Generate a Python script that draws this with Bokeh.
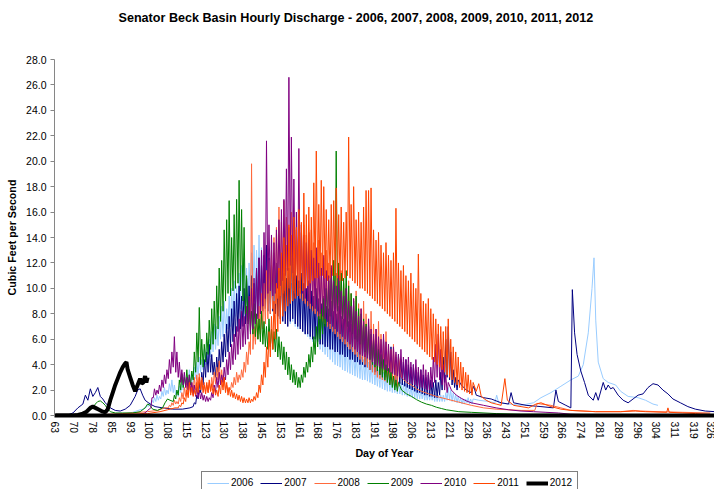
from bokeh.plotting import figure
from bokeh.layouts import column
from bokeh.models import Range1d, FixedTicker, NumeralTickFormatter, Legend, LegendItem, Title
from bokeh.embed import file_html
from bokeh.resources import INLINE

# ---------------- data ----------------
years = ["2006", "2007", "2008", "2009", "2010", "2011", "2012"]
colors = ["#99CCFF", "#000080", "#FF6A3D", "#008000", "#800080", "#FF4500", "#000000"]

x_tick_labels = ["63", "70", "78", "85", "93", "100", "108", "115", "123", "130", "138", "145",
                 "153", "161", "168", "176", "183", "191", "198", "206", "213", "221", "228", "236",
                 "243", "251", "259", "266", "274", "281", "289", "296", "304", "311", "319", "326"]
y_ticks = [0, 2, 4, 6, 8, 10, 12, 14, 16, 18, 20, 22, 24, 26, 28]

# 2006
pre_d_2006 = [63, 75, 85, 90, 94, 97]
pre_v_2006 = [0.0, 0.02, 0.05, 0.1, 0.25, 0.45]
start_2006 = 98
hi_2006 = [0.6, 0.8, 1.0, 1.2, 1.4, 1.6, 1.5, 1.9, 2.2, 2.0,
           2.5, 2.8, 2.4, 2.0, 2.3, 2.8, 3.2, 3.0, 3.6, 3.3,
           3.8, 4.2, 4.6, 4.4, 5.2, 5.8, 6.0, 6.6, 7.2, 7.0,
           7.8, 8.6, 9.0, 8.4, 9.4, 10.0, 10.6, 10.2, 11.2, 11.8,
           12.4, 11.6, 12.0, 12.8, 13.4, 13.0, 14.2, 13.2, 12.6, 13.4,
           12.8, 12.0, 12.6, 11.8, 12.2, 11.4, 11.0, 11.6, 10.8, 10.4,
           11.0, 10.2, 9.8, 10.4, 9.6, 9.2, 9.8, 9.0, 8.6, 8.2,
           8.8, 8.0, 7.6, 7.2, 7.6, 7.0, 6.6, 6.8, 6.2, 5.8,
           6.0, 5.6, 5.2, 5.4, 5.0, 4.8, 5.0, 4.6, 4.4, 4.6,
           4.2, 4.0, 4.2, 3.8, 3.6, 3.8, 3.4, 3.2, 3.4, 3.0,
           2.9, 3.0, 2.7, 2.6, 2.5, 2.5, 2.4, 2.3, 2.2, 2.2,
           2.0, 2.0, 1.9, 1.9, 1.8, 1.8, 1.7, 1.7, 1.6, 1.6,
           1.6, 1.8, 2.2, 2.0, 1.8, 1.6, 1.5, 1.4, 1.3, 1.3,
           1.4, 1.3, 1.3]
lo_2006 = [0.5, 0.6, 0.7, 0.9, 1.0, 1.1, 1.2, 1.3, 1.5, 1.6,
           1.7, 1.9, 1.8, 1.6, 1.5, 1.8, 2.0, 2.2, 2.4, 2.5,
           2.6, 2.9, 3.2, 3.4, 3.6, 4.0, 4.3, 4.6, 5.0, 5.2,
           5.5, 6.0, 6.2, 6.5, 6.8, 7.0, 7.4, 7.8, 8.0, 8.4,
           8.8, 8.6, 8.4, 9.0, 9.4, 9.2, 9.8, 9.5, 9.0, 9.6,
           9.2, 8.8, 9.0, 8.6, 8.4, 8.2, 7.8, 8.0, 7.6, 7.2,
           7.4, 7.0, 6.8, 7.0, 6.6, 6.4, 6.2, 6.0, 5.8, 5.6,
           5.4, 5.2, 5.0, 4.8, 4.6, 4.4, 4.2, 4.0, 3.9, 3.8,
           3.6, 3.5, 3.4, 3.3, 3.2, 3.1, 3.0, 2.9, 2.8, 2.8,
           2.7, 2.6, 2.5, 2.4, 2.3, 2.2, 2.1, 2.0, 1.9, 1.9,
           1.8, 1.8, 1.7, 1.7, 1.6, 1.6, 1.5, 1.5, 1.4, 1.4,
           1.3, 1.3, 1.3, 1.2, 1.2, 1.2, 1.2, 1.1, 1.1, 1.1,
           1.1, 1.1, 1.2, 1.2, 1.1, 1.1, 1.0, 1.0, 0.9, 0.9,
           1.0, 0.9, 0.9]
post_d_2006 = [233, 237, 239.5, 240.2, 241, 245, 250, 255, 258, 262, 266, 270, 273, 275, 277,
               278.5, 279.3, 280, 281, 283, 285, 288, 290, 293, 297, 300, 303, 305]
post_v_2006 = [1.2, 1.1, 1.0, 1.6, 1.0, 0.9, 0.8, 1.0, 1.4, 1.8, 2.3, 2.8, 3.1, 4.0, 6.5,
               10.0, 12.4, 7.5, 4.2, 2.9, 2.6, 2.4, 1.9, 1.5, 1.4, 1.2, 0.9, 0.8]

# 2007
pre_d_2007 = [63, 68, 70, 72, 74, 75, 76, 77, 78, 79, 80, 81, 82, 83, 85, 87, 89, 91, 93, 95,
              96, 97, 98, 99, 101, 103, 106, 110, 114, 117]
pre_v_2007 = [0.0, 0.05, 0.2, 0.6, 0.9, 1.6, 1.2, 2.1, 1.5, 1.8, 2.2, 1.5, 1.3, 1.0, 0.6, 0.4,
              0.35, 0.5, 0.8, 1.5, 2.0, 2.1, 1.6, 1.2, 0.9, 0.7, 0.6, 0.5, 0.5, 0.6]
start_2007 = 118
hi_2007 = [1.0, 1.6, 2.6, 3.4, 4.4, 5.0, 5.6, 4.8, 4.2, 4.6,
           5.2, 5.8, 6.4, 7.2, 7.8, 8.4, 9.0, 9.6, 10.2, 9.4,
           10.0, 10.8, 10.2, 11.0, 10.4, 11.6, 12.4, 11.8, 12.6, 13.4,
           12.4, 11.8, 12.8, 12.0, 11.4, 12.2, 11.2, 10.8, 11.6, 14.0,
           12.4, 11.0, 10.6, 11.2, 10.4, 10.0, 10.6, 9.8, 9.4, 10.0,
           9.2, 8.8, 9.4, 8.6, 8.4, 9.0, 8.2, 8.0, 8.6, 7.8,
           7.6, 8.2, 7.4, 7.2, 7.8, 7.0, 6.8, 7.4, 6.6, 6.4,
           7.0, 6.2, 6.0, 6.4, 5.8, 5.6, 6.0, 5.4, 5.2, 5.4,
           4.8, 4.6, 4.8, 4.4, 4.2, 4.4, 4.0, 3.8, 4.0, 3.6,
           3.4, 3.6, 3.2, 3.0, 3.2, 2.8, 2.6, 2.8, 2.6, 3.4,
           4.6, 6.0, 7.0, 5.0, 3.6, 3.0, 2.8]
lo_2007 = [0.7, 0.9, 1.3, 1.8, 2.4, 3.0, 3.4, 3.4, 3.2, 3.0,
           3.4, 3.8, 4.2, 4.6, 5.0, 5.4, 5.8, 6.2, 6.6, 6.8,
           7.0, 7.2, 7.4, 7.6, 7.4, 7.6, 7.8, 8.0, 8.2, 8.4,
           8.2, 8.0, 8.2, 8.0, 7.8, 7.6, 7.4, 7.2, 7.0, 7.4,
           7.6, 7.2, 7.0, 6.8, 6.6, 6.4, 6.4, 6.2, 6.0, 6.0,
           5.8, 5.6, 5.6, 5.4, 5.4, 5.2, 5.2, 5.0, 5.0, 4.8,
           4.8, 4.6, 4.6, 4.4, 4.4, 4.2, 4.2, 4.0, 4.0, 3.8,
           3.8, 3.6, 3.6, 3.4, 3.4, 3.2, 3.2, 3.0, 3.0, 2.8,
           2.8, 2.6, 2.6, 2.5, 2.4, 2.3, 2.2, 2.1, 2.0, 1.9,
           1.8, 1.8, 1.7, 1.6, 1.6, 1.5, 1.5, 1.4, 1.4, 1.6,
           2.0, 2.6, 3.0, 2.8, 2.4, 2.2, 2.0]
post_d_2007 = [226, 228, 230, 231, 232, 235, 238, 242, 245, 246, 247, 252, 258, 263, 264, 265, 268,
               270, 270.6, 271.5, 272.5, 274, 275.5, 277, 279, 280, 281, 283, 284, 285, 286, 287,
               289, 291, 293, 295, 297, 299, 301, 303, 305, 307, 309, 311, 314, 317, 320, 324, 328]
post_v_2007 = [2.4, 2.0, 1.8, 2.3, 1.6, 1.4, 1.3, 1.0, 0.9, 1.8, 1.0, 0.8, 0.7, 0.6, 2.0, 1.1, 0.8,
               0.6, 9.9, 6.5, 4.8, 3.5, 2.6, 1.6, 1.2, 1.8, 1.2, 2.6, 2.0, 2.4, 2.1, 2.2,
               1.6, 1.2, 1.0, 1.3, 1.6, 1.7, 2.2, 2.5, 2.4, 2.0, 1.7, 1.3, 1.0, 0.7, 0.5, 0.35, 0.3]

# 2008
pre_d_2008 = [63, 80, 90, 100, 104, 107]
pre_v_2008 = [0.0, 0.05, 0.15, 0.3, 0.4, 0.6]
start_2008 = 108
hi_2008 = [0.8, 1.0, 1.2, 1.1, 1.4, 1.8, 2.2, 2.6, 2.8, 2.6,
           3.0, 3.2, 3.3, 3.0, 2.6, 2.4, 2.6, 3.0, 3.4, 3.8,
           4.3, 3.6, 3.0, 2.4, 2.2, 2.6, 3.0, 3.4, 3.2, 3.6,
           4.2, 5.0, 5.8, 19.8, 7.0, 7.8, 8.6, 9.6, 10.4, 11.4,
           12.2, 13.0, 14.0, 14.8, 16.4, 15.2, 16.9, 15.6, 14.8, 16.0,
           15.2, 14.6, 15.8, 14.4, 15.0, 14.2, 13.8, 14.6, 13.6, 13.0,
           13.8, 12.8, 12.4, 13.0, 12.0, 11.6, 12.2, 11.2, 10.8, 11.4,
           10.4, 10.0, 10.6, 9.6, 9.2, 9.8, 8.8, 8.4, 9.0, 8.0,
           7.6, 8.2, 7.2, 6.8, 7.4, 6.4, 6.0, 6.6, 5.6, 5.2,
           5.6, 4.8, 4.6]
lo_2008 = [0.6, 0.7, 0.8, 0.9, 0.9, 1.1, 1.3, 1.5, 1.7, 1.8,
           1.9, 2.0, 2.2, 2.1, 2.0, 1.9, 1.8, 1.9, 2.2, 2.5,
           2.8, 2.6, 2.3, 2.0, 1.9, 2.0, 2.2, 2.4, 2.6, 2.8,
           3.0, 3.4, 4.0, 4.8, 5.2, 5.6, 6.0, 6.4, 6.8, 7.2,
           7.6, 8.0, 8.4, 8.8, 9.2, 9.4, 9.6, 9.8, 10.0, 10.0,
           9.8, 9.6, 9.4, 9.2, 9.0, 8.8, 8.6, 8.4, 8.2, 8.0,
           7.8, 7.6, 7.4, 7.2, 7.0, 6.8, 6.6, 6.4, 6.2, 6.0,
           5.8, 5.6, 5.4, 5.2, 5.0, 4.8, 4.6, 4.4, 4.2, 4.0,
           3.8, 3.6, 3.4, 3.2, 3.0, 2.9, 2.8, 2.7, 2.6, 2.5,
           2.4, 2.3, 2.2]
post_d_2008 = [202, 204, 206, 208, 210, 213, 216, 220, 224, 230, 235, 240, 250, 255.5, 256.5,
               258, 262, 266, 270, 280, 290, 295, 298, 305, 315, 326]
post_v_2008 = [3.0, 2.6, 2.4, 2.1, 1.9, 1.7, 1.5, 1.3, 1.1, 0.8, 0.6, 0.5, 0.4, 0.4, 0.95,
               0.9, 0.8, 0.6, 0.4, 0.3, 0.3, 0.4, 0.35, 0.3, 0.25, 0.2]

# 2009
pre_d_2009 = [63, 70, 73, 76, 78, 79, 80, 81, 82, 83, 84, 85, 87, 90, 94, 97, 99, 100, 101, 102,
              104, 106, 107, 108, 109]
pre_v_2009 = [0.0, 0.02, 0.1, 0.3, 0.6, 0.9, 1.1, 1.15, 1.0, 0.8, 0.5, 0.3, 0.2, 0.2, 0.2, 0.3,
              0.6, 0.9, 0.8, 0.5, 0.4, 0.6, 1.0, 1.3, 1.2]
start_2009 = 110
hi_2009 = [1.6, 2.0, 2.8, 3.3, 3.0, 3.6, 3.2, 3.5, 5.0, 6.5,
           8.5, 6.0, 5.6, 6.5, 7.5, 8.4, 9.0, 10.2, 11.6, 12.2,
           14.6, 15.4, 16.9, 14.0, 15.8, 17.0, 18.5, 16.2, 14.8, 11.0,
           9.0, 8.2, 8.8, 8.0, 7.6, 8.2, 7.4, 7.0, 7.6, 6.8,
           6.6, 6.8, 6.2, 5.8, 5.4, 5.0, 4.6, 4.0, 3.6, 3.4,
           3.0, 3.2, 3.8, 4.2, 4.8, 5.4, 6.2, 7.0, 7.8, 8.4,
           9.2, 10.0, 10.6, 11.4, 12.2, 20.8, 12.0, 11.2, 10.8, 11.4,
           10.2, 9.6, 9.0, 9.4, 8.4, 8.0, 7.6, 7.2, 6.8, 6.4,
           6.0, 5.6, 5.2, 4.8, 4.4, 4.0, 3.7, 3.4, 3.1, 2.8,
           2.6]
lo_2009 = [1.1, 1.3, 1.6, 2.0, 2.2, 2.4, 2.3, 2.4, 2.8, 3.4,
           4.2, 4.0, 3.8, 4.2, 4.8, 5.2, 5.6, 6.0, 6.8, 7.4,
           8.2, 9.0, 9.6, 9.4, 9.8, 10.0, 10.4, 9.8, 9.0, 8.0,
           7.2, 6.6, 6.4, 6.2, 6.0, 5.8, 5.6, 5.4, 5.2, 5.4,
           5.2, 5.0, 4.6, 4.4, 4.0, 3.6, 3.2, 2.8, 2.6, 2.4,
           2.2, 2.2, 2.6, 3.0, 3.4, 3.8, 4.2, 4.8, 5.4, 6.0,
           6.4, 7.0, 7.4, 7.8, 8.2, 8.4, 8.2, 8.0, 7.6, 7.4,
           7.0, 6.6, 6.4, 6.0, 5.8, 5.6, 5.2, 5.0, 4.6, 4.4,
           4.0, 3.8, 3.5, 3.2, 3.0, 2.8, 2.6, 2.4, 2.2, 2.0,
           1.9]
post_d_2009 = [202, 204, 206, 208, 210, 212, 214, 216, 218, 220, 225, 230, 240, 250, 260, 280, 300, 326]
post_v_2009 = [2.0, 1.7, 1.5, 1.25, 1.05, 0.9, 0.8, 0.65, 0.55, 0.45, 0.3, 0.25, 0.15, 0.1, 0.1,
               0.08, 0.08, 0.05]

# 2010
pre_d_2010 = [63, 90, 96, 99, 100]
pre_v_2010 = [0.0, 0.0, 0.05, 0.2, 0.4]
start_2010 = 101
hi_2010 = [1.4, 2.1, 2.0, 2.4, 2.8, 3.2, 3.6, 4.4, 5.0, 6.2,
           5.0, 4.2, 3.6, 3.4, 3.0, 3.2, 2.6, 2.4, 2.2, 2.0,
           1.8, 1.6, 1.5, 1.4, 1.8, 2.4, 3.0, 3.4, 3.2, 3.8,
           4.4, 5.0, 5.6, 6.4, 7.0, 7.6, 8.2, 7.8, 8.6, 9.4,
           10.0, 10.8, 11.6, 12.4, 13.0, 14.4, 21.6, 15.0, 14.2, 13.6,
           14.6, 15.4, 16.2, 17.0, 19.4, 26.6, 21.9, 18.6, 16.0, 21.0,
           15.0, 14.2, 13.6, 14.4, 13.0, 12.4, 13.2, 12.0, 11.6, 12.6,
           11.4, 11.0, 11.8, 10.6, 10.2, 11.0, 9.8, 9.4, 10.0, 9.0,
           8.6, 9.2, 8.2, 7.8, 8.4, 7.4, 7.0, 7.6, 6.8, 6.4,
           6.8, 6.2, 6.0, 6.4, 5.8, 5.6, 5.2, 5.4, 5.0, 4.8,
           5.2, 4.6, 4.4, 4.6, 4.2, 4.0, 4.4, 3.8, 3.6, 4.0,
           3.6, 3.4, 3.8, 4.6, 5.6, 6.4, 5.2, 4.0, 3.2, 2.6]
lo_2010 = [0.6, 1.4, 1.6, 1.7, 1.9, 2.2, 2.5, 2.9, 3.3, 3.8,
           3.4, 3.0, 2.6, 2.4, 2.2, 2.0, 1.8, 1.6, 1.5, 1.4,
           1.3, 1.2, 1.1, 1.1, 1.2, 1.4, 1.8, 2.2, 2.4, 2.6,
           2.8, 3.2, 3.6, 4.0, 4.4, 4.8, 5.2, 5.4, 5.6, 6.0,
           6.4, 6.8, 7.2, 7.6, 8.0, 8.6, 9.2, 9.6, 9.8, 9.4,
           9.6, 10.0, 10.2, 10.6, 11.0, 11.4, 11.8, 11.2, 10.6, 10.4,
           10.0, 9.6, 9.2, 9.0, 8.8, 8.6, 8.4, 8.2, 8.0, 7.8,
           7.6, 7.4, 7.2, 7.0, 6.8, 6.6, 6.4, 6.2, 6.0, 5.8,
           5.6, 5.4, 5.2, 5.0, 4.8, 4.7, 4.6, 4.5, 4.4, 4.2,
           4.0, 3.9, 3.8, 3.7, 3.6, 3.5, 3.4, 3.3, 3.2, 3.1,
           3.0, 2.9, 2.8, 2.7, 2.6, 2.5, 2.4, 2.3, 2.2, 2.2,
           2.1, 2.0, 2.0, 2.2, 2.6, 3.0, 2.8, 2.4, 2.0, 1.8]
post_d_2010 = [222, 224, 226, 228, 230, 235, 240, 245, 250, 255, 260, 265, 270, 280, 300, 326]
post_v_2010 = [2.0, 1.6, 1.35, 1.15, 1.0, 0.8, 0.6, 0.45, 0.35, 0.3, 0.25, 0.2, 0.1, 0.05, 0.02, 0.0]

# 2011
pre_d_2011 = [63, 80, 100, 105, 108, 111]
pre_v_2011 = [0.0, 0.05, 0.15, 0.3, 0.45, 0.6]
start_2011 = 112
hi_2011 = [0.8, 1.0, 1.4, 2.0, 2.6, 2.2, 2.0, 2.6, 3.0, 2.8,
           2.4, 2.6, 2.8, 2.5, 2.2, 2.0, 2.4, 2.8, 3.0, 2.6,
           2.2, 2.0, 1.8, 1.7, 1.6, 1.5, 1.4, 1.3, 1.4, 1.3,
           1.5, 1.8, 2.4, 3.2, 4.2, 5.4, 6.6, 7.8, 9.0, 10.4,
           11.6, 12.8, 14.0, 13.4, 15.0, 14.2, 15.6, 14.8, 16.2, 15.2,
           17.5, 15.8, 16.4, 15.6, 18.3, 20.8, 16.6, 18.5, 18.0, 16.2,
           15.4, 16.6, 16.9, 17.9, 15.8, 16.4, 15.2, 16.0, 21.9, 16.6,
           18.0, 15.4, 16.0, 15.2, 16.4, 17.7, 17.7, 17.9, 14.6, 13.8,
           14.4, 13.4, 12.8, 13.6, 12.6, 12.2, 12.8, 16.3, 12.0, 11.4,
           11.8, 11.0, 10.6, 11.2, 10.4, 10.0, 12.7, 9.6, 9.0, 8.8,
           9.2, 8.4, 8.0, 7.6, 7.2, 7.0, 6.6, 7.0, 7.6, 6.0,
           5.4, 5.0, 4.6, 4.2, 3.8, 3.4, 3.2, 2.8, 2.6]
lo_2011 = [0.6, 0.7, 0.9, 1.1, 1.4, 1.6, 1.5, 1.6, 1.8, 2.0,
           1.8, 1.7, 1.8, 1.9, 1.7, 1.6, 1.5, 1.7, 2.0, 1.8,
           1.6, 1.5, 1.4, 1.3, 1.2, 1.1, 1.0, 1.0, 1.0, 1.0,
           1.1, 1.2, 1.4, 1.8, 2.4, 3.0, 3.8, 4.6, 5.2, 6.0,
           6.6, 7.2, 7.8, 8.2, 8.6, 8.8, 9.0, 9.2, 9.4, 9.6,
           9.8, 10.0, 10.2, 10.4, 10.6, 10.8, 10.8, 11.0, 11.0, 10.8,
           10.6, 10.8, 11.0, 11.0, 10.8, 10.6, 10.6, 10.8, 11.0, 10.8,
           10.6, 10.4, 10.2, 10.0, 10.0, 9.8, 9.6, 9.4, 9.2, 9.0,
           8.8, 8.6, 8.4, 8.2, 8.0, 7.8, 7.6, 7.4, 7.2, 7.0,
           6.8, 6.6, 6.4, 6.2, 6.0, 5.8, 5.6, 5.4, 5.2, 5.0,
           4.8, 4.6, 4.4, 4.2, 4.0, 3.8, 3.6, 3.4, 3.2, 3.0,
           2.8, 2.6, 2.4, 2.2, 2.0, 1.9, 1.8, 1.7, 1.6]
post_d_2011 = [232, 233, 234, 236, 238, 240, 242, 243.5, 244.5, 247, 250, 253, 256, 258, 262,
               266, 270, 280, 290, 296, 300, 308.5, 309, 309.5, 315, 320, 326]
post_v_2011 = [1.9, 2.5, 1.5, 1.2, 1.0, 0.9, 0.8, 2.9, 1.2, 0.8, 0.7, 0.6, 0.9, 1.0, 0.7,
               0.5, 0.4, 0.3, 0.3, 0.35, 0.3, 0.25, 0.6, 0.25, 0.2, 0.15, 0.1]

# 2012
days_2012 = [63, 70, 72, 74, 75.5, 77, 78, 79, 80.5, 82, 83, 84, 85, 86, 87, 88, 89, 90, 91, 91.5,
             92, 93, 94, 95, 96, 97, 97.6, 98.3, 99, 99.5, 100]
vals_2012 = [0.0, 0.0, 0.05, 0.15, 0.3, 0.6, 0.7, 0.6, 0.45, 0.3, 0.25, 0.5, 1.2, 1.8, 2.4, 2.9,
             3.4, 3.8, 4.1, 4.2, 3.6, 3.0, 2.4, 1.9, 2.4, 2.9, 2.5, 2.6, 3.1, 2.6, 3.0]


def build(pre_d, pre_v, start, hi, lo, post_d, post_v):
    """Order the read values into one hourly-like trace: daily trough then daily peak."""
    xs, ys = list(pre_d), list(pre_v)
    for i, (h, l) in enumerate(zip(hi, lo)):
        xs += [start + i + 0.3, start + i + 0.75]
        ys += [l, h]
    xs += list(post_d)
    ys += list(post_v)
    return xs, ys


series = [
    build(pre_d_2006, pre_v_2006, start_2006, hi_2006, lo_2006, post_d_2006, post_v_2006),
    build(pre_d_2007, pre_v_2007, start_2007, hi_2007, lo_2007, post_d_2007, post_v_2007),
    build(pre_d_2008, pre_v_2008, start_2008, hi_2008, lo_2008, post_d_2008, post_v_2008),
    build(pre_d_2009, pre_v_2009, start_2009, hi_2009, lo_2009, post_d_2009, post_v_2009),
    build(pre_d_2010, pre_v_2010, start_2010, hi_2010, lo_2010, post_d_2010, post_v_2010),
    build(pre_d_2011, pre_v_2011, start_2011, hi_2011, lo_2011, post_d_2011, post_v_2011),
    (days_2012, vals_2012),
]
widths = [1, 1, 1, 1, 1, 1, 4]

# ---------------- main figure ----------------
FONT = "Liberation Sans"
p = figure(width=714, height=468, output_backend="svg", toolbar_location=None,
           x_range=Range1d(62.6, 327.7), y_range=Range1d(0, 28),
           min_border_left=54, min_border_right=0, min_border_top=59, min_border_bottom=53)
p.background_fill_color = "white"
p.border_fill_color = "white"
p.outline_line_color = None
p.xgrid.visible = False
p.ygrid.visible = False

# spacer between frame and title (pushes the title up)
p.add_layout(Title(text=" ", text_font_size="1px", standoff=32), "above")

p.title.text = "Senator Beck Basin Hourly Discharge - 2006, 2007, 2008, 2009, 2010, 2011, 2012"
p.title.align = "left"
p.title.offset = 64
p.title.standoff = 0
p.title.text_font = FONT
p.title.text_font_size = "12.6px"
p.title.text_font_style = "bold"
p.title.text_color = "black"

for (xs, ys), c, w in zip(series, colors, widths):
    p.line(xs, ys, line_color=c, line_width=w)

# x axis
tick_pos = [63 + k * 181 / 24 for k in range(len(x_tick_labels))]
xa = p.xaxis[0]
xa.ticker = FixedTicker(ticks=tick_pos)
xa.major_label_overrides = {t: lab for t, lab in zip(tick_pos, x_tick_labels)}
xa.major_label_orientation = "vertical"
xa.major_label_text_font = FONT
xa.major_label_text_font_size = "10.3px"
xa.major_label_text_color = "black"
xa.major_label_standoff = 6
xa.major_tick_line_color = None
xa.major_tick_out = 0
xa.major_tick_in = 0
xa.minor_tick_line_color = None
xa.axis_line_color = "black"
xa.axis_line_width = 4
xa.axis_label = "Day of Year"
xa.axis_label_text_font = FONT
xa.axis_label_text_font_size = "10.7px"
xa.axis_label_text_font_style = "bold"
xa.axis_label_text_color = "black"
xa.axis_label_standoff = 5

# y axis
ya = p.yaxis[0]
ya.ticker = FixedTicker(ticks=y_ticks)
ya.formatter = NumeralTickFormatter(format="0.0")
ya.major_label_text_font = FONT
ya.major_label_text_font_size = "10.5px"
ya.major_label_text_color = "black"
ya.major_label_standoff = 4
ya.major_tick_out = 4
ya.major_tick_in = 0
ya.major_tick_line_color = "#868686"
ya.minor_tick_line_color = None
ya.axis_line_color = "#868686"
ya.axis_label = "Cubic Feet per Second"
ya.axis_label_text_font = FONT
ya.axis_label_text_font_size = "10.7px"
ya.axis_label_text_font_style = "bold"
ya.axis_label_text_color = "black"
ya.axis_label_standoff = 5

# ---------------- legend strip (same series, out of its view; only the legend shows) ----------------
pl = figure(width=714, height=21, output_backend="svg", toolbar_location=None,
            x_range=Range1d(0, 1), y_range=Range1d(0, 1),
            x_axis_location=None, y_axis_location=None,
            min_border=0, min_border_left=0, min_border_right=0,
            min_border_top=0, min_border_bottom=0)
pl.background_fill_color = "white"
pl.border_fill_color = "white"
pl.outline_line_color = None
pl.xgrid.visible = False
pl.ygrid.visible = False
legend_renderers = [pl.line(xs, ys, line_color=c, line_width=w)
                    for (xs, ys), c, w in zip(series, colors, widths)]

legend = Legend(items=[LegendItem(label=y, renderers=[r]) for y, r in zip(years, legend_renderers)],
                orientation="horizontal", location=(147, -5),
                glyph_width=22, glyph_height=10, label_height=10, label_width=20,
                label_standoff=2, spacing=7, padding=5, margin=0,
                label_text_font=FONT, label_text_font_size="10px", label_text_color="black",
                border_line_color="black", border_line_width=1,
                background_fill_color="white", background_fill_alpha=1.0)
pl.add_layout(legend, "center")

layout = column(p, pl, spacing=0)
open("out.html", "w").write(file_html(layout, INLINE))
